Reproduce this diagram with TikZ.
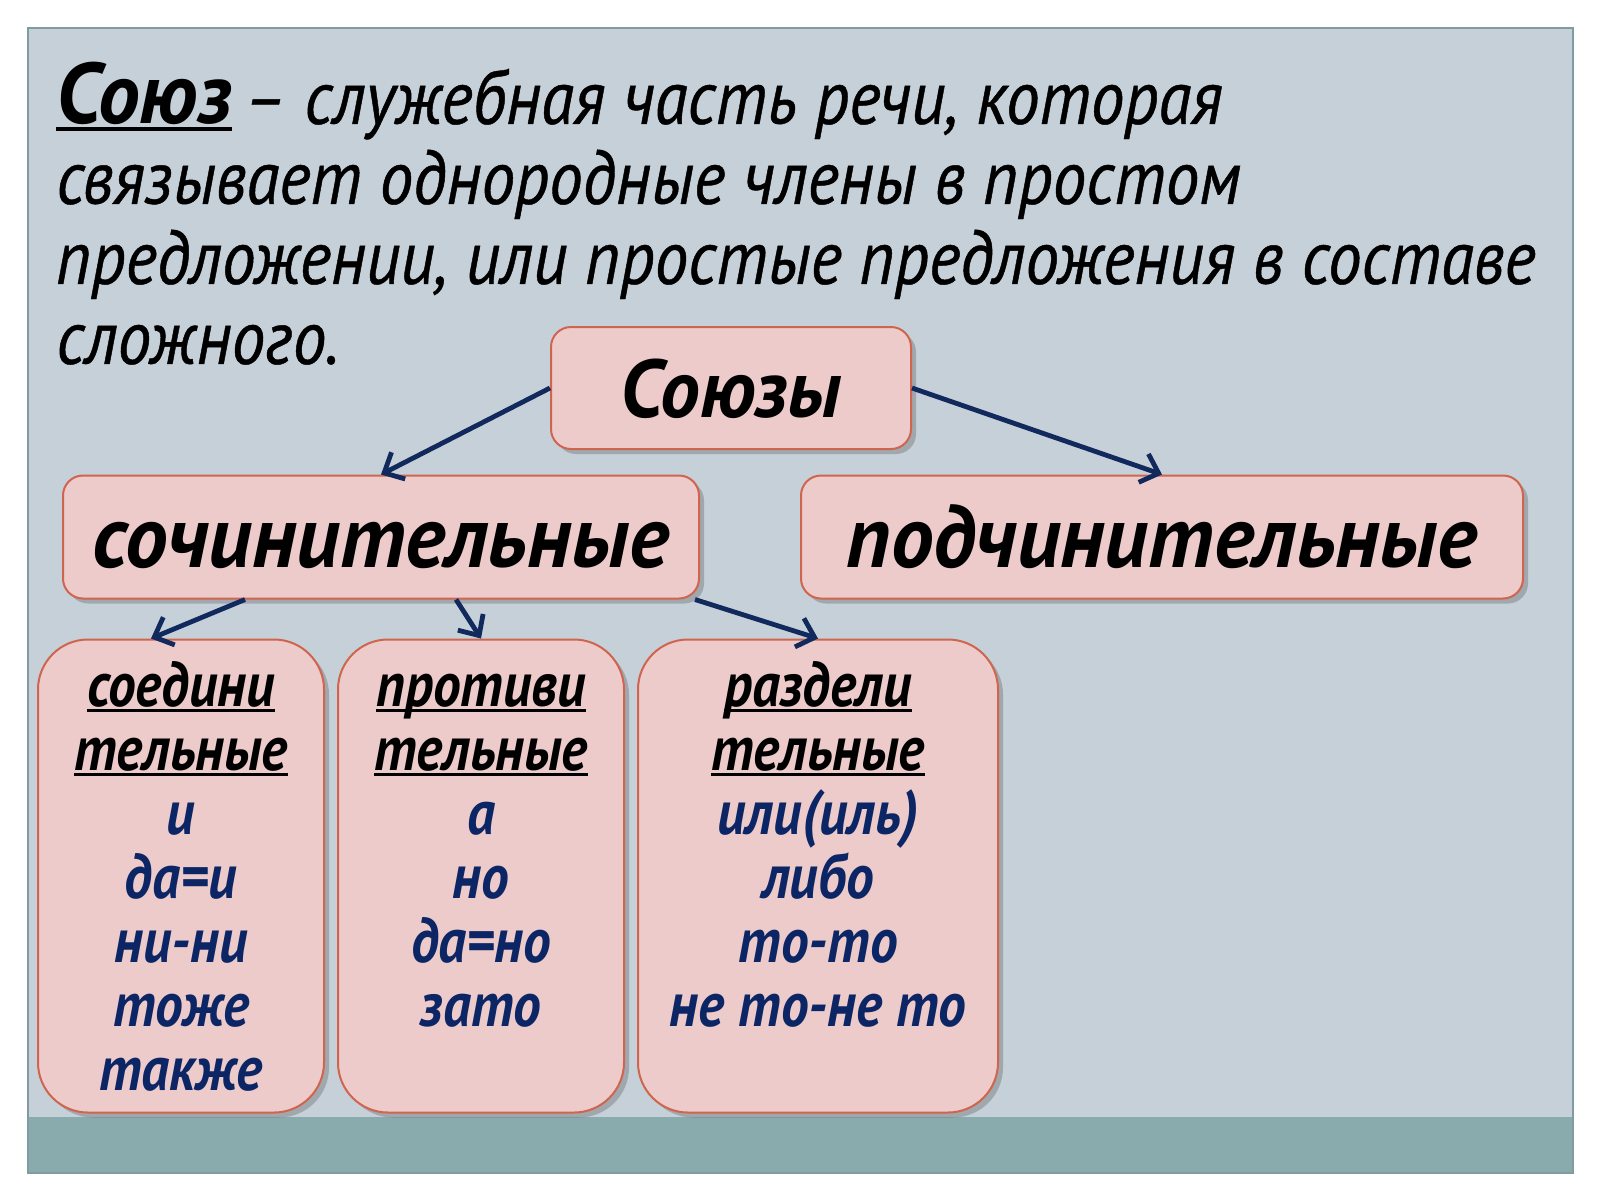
\documentclass[tikz,border=0pt]{standalone}
\usepackage{fontspec}
\setmainfont{PT Sans}[FakeStretch=0.88]
\newfontfamily\headfont{PT Sans}[FakeStretch=0.97]
\newfontfamily\deffont{PT Sans}[FakeStretch=0.885, FakeBold=0.6]
\usetikzlibrary{
  positioning,
  arrows.meta,
  shadows
}
\definecolor{slidebg}{HTML}{C5D0D8}
\definecolor{bandteal}{HTML}{8AABAD}
\definecolor{framegray}{HTML}{7F9DA1}
\definecolor{boxfill}{HTML}{EDCBCA}
\definecolor{boxline}{HTML}{CF654F}
\definecolor{arrownavy}{HTML}{11295C}
\definecolor{itemnavy}{HTML}{0B2565}
\newsavebox\ulbox
\newcommand{\ulword}[1]{\sbox\ulbox{#1}\rlap{\rule[-0.08em]{\wd\ulbox}{0.045em}}\usebox\ulbox}
\tikzset{
  >={Straight Barb[length=8pt,width=15pt]},
  link/.style={->, draw=arrownavy, line width=2.4pt},
  rbox/.style={draw=boxline, fill=boxfill, line width=1pt, inner sep=0pt,
    rounded corners=10pt,
    drop shadow={shadow xshift=2.5pt, shadow yshift=-2.5pt, opacity=0.3, fill=black!70}},
  headbox/.style={rbox, minimum height=61.5pt, text height=32pt, text depth=2pt,
    font=\headfont\fontsize{44}{48}\selectfont\bfseries\itshape},
  colbox/.style={rbox, rounded corners=25pt, minimum width=143pt,
    minimum height=236.5pt, align=center, text=itemnavy,
    font=\fontsize{31.5}{32}\selectfont\bfseries\itshape},
}

\begin{document}
\begin{tikzpicture}[x=0.5pt,y=-0.5pt]
    \useasboundingbox (0,0) rectangle (1600,1200);
    % slide
    \fill[slidebg] (28,28) rectangle (1573,1173);
    \fill[bandteal] (28,1117) rectangle (1573,1173);
    \draw[framegray, line width=1pt] (28,28) rectangle (1573,1173);
    % definition
    \node[anchor=north west, align=left, inner sep=0pt,
      font=\deffont\fontsize{38}{40}\selectfont\itshape] (defn) at (56,62)
      {{\headfont\fontsize{43}{40}\selectfont\bfseries\ulword{Союз}}\hspace{6pt}– служебная часть речи, которая\\
       связывает однородные члены в простом\\
       предложении, или простые предложения в составе\\
       сложного.};
    % tree
    \node[rbox, minimum width=180pt, minimum height=61pt, text height=31pt, text depth=2pt,
      font=\headfont\fontsize{41}{44}\selectfont\bfseries\itshape] (soyuzy) at (731,388) {Союзы};
    \node[headbox, minimum width=318pt] (soch) at (381,537) {сочинительные};
    \node[headbox, minimum width=361pt] (podch) at (1162,537) {подчинительные};
    \node[colbox] (soed) at (181,876)
      {\vphantom{бд}\textcolor{black}{\ulword{соедини}}\\ \textcolor{black}{\ulword{тельные}}\\
       и\\ да=и\\ ни-ни\\ тоже\\ также};
    \node[colbox] (prot) at (481,876)
      {\vphantom{бд}\textcolor{black}{\ulword{противи}}\\ \textcolor{black}{\ulword{тельные}}\\
       а\\ но\\ да=но\\ зато\\ \mbox{}};
    \node[colbox, minimum width=180pt] (razd) at (818,876)
      {\vphantom{бд}\textcolor{black}{\ulword{раздели}}\\ \textcolor{black}{\ulword{тельные}}\\
       или(иль)\\ либо\\ то-то\\ не то-не то\\ \mbox{}};
    \draw[link] (soyuzy.west) -- (soch.north);
    \draw[link] (soyuzy.east) -- (podch.north);
    \draw[link] ([xshift=-68pt]soch.south) -- ([xshift=-15pt]soed.north);
    \draw[link] ([xshift=37.5pt]soch.south) -- (prot.north);
    \draw[link] ([xshift=-2.5pt]soch.south east) -- (razd.north);
\end{tikzpicture}
\end{document}
